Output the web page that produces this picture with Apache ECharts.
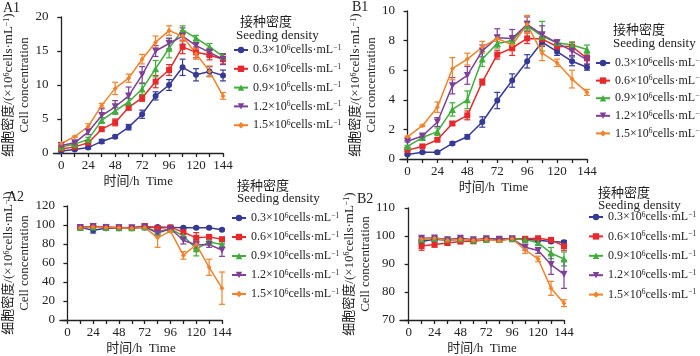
<!DOCTYPE html>
<html>
<head>
<meta charset="utf-8">
<script src="https://cdn.jsdelivr.net/npm/echarts@6/dist/echarts.min.js"></script>
<style>
  html, body { margin: 0; padding: 0; background: #fff; }
  #chart { width: 700px; height: 356px; }
</style>
</head>
<body>
<div id="chart"></div>
<script>
// 接种密度
var densities = ['0.3', '0.6', '0.9', '1.2', '1.5'];
var densityNames = densities.map(function (d) { return d + '×10⁶cells·mL⁻¹'; });
var hoursTop = [0, 12, 24, 36, 48, 60, 72, 84, 96, 108, 120, 132, 144];
var hoursBottom = [12, 24, 36, 48, 60, 72, 84, 96, 108, 120, 132, 144];
var xTicks = [0, 12, 24, 36, 48, 60, 72, 84, 96, 108, 120, 132, 144];
var xLabels = [0, 24, 48, 72, 96, 120, 144];

// A1 细胞密度
var a1Means = [
  [0.3, 0.5, 0.8, 1.7, 2.4, 3.8, 5.7, 8.4, 10.0, 12.6, 11.5, 12.0, 11.4],
  [0.6, 0.9, 1.5, 3.5, 4.5, 6.7, 8.1, 10.5, 12.2, 15.6, 14.8, 14.4, 13.8],
  [0.9, 1.3, 2.0, 4.8, 6.2, 7.5, 9.4, 12.4, 15.4, 18.1, 16.9, 15.6, 14.2],
  [1.1, 1.5, 3.1, 5.5, 6.8, 8.4, 11.5, 15.0, 16.1, 17.2, 15.8, 14.8, 13.8],
  [1.4, 2.4, 3.9, 7.0, 9.5, 11.0, 13.8, 16.3, 18.0, 17.2, 14.6, 12.0, 8.4]
];
var a1Errors = [
  [0.1, 0.1, 0.2, 0.3, 0.2, 0.4, 0.6, 0.6, 0.8, 1.2, 0.9, 0.7, 0.8],
  [0.1, 0.1, 0.2, 0.3, 0.5, 0.4, 0.5, 0.9, 0.8, 1.0, 0.8, 0.7, 0.7],
  [0.1, 0.2, 0.3, 0.4, 0.5, 0.5, 0.8, 1.2, 1.4, 0.6, 0.4, 0.5, 0.4],
  [0.1, 0.2, 0.4, 1.0, 0.9, 1.3, 1.2, 0.8, 0.8, 1.2, 0.4, 0.6, 0.8],
  [0.1, 0.1, 0.4, 0.3, 0.9, 0.6, 0.7, 0.9, 0.7, 0.8, 0.8, 0.8, 0.5]
];

// B1 细胞密度
var b1Means = [
  [0.3, 0.45, 0.45, 1.05, 1.5, 2.5, 3.95, 5.3, 6.6, 7.9, 7.25, 6.6, 6.2],
  [0.6, 0.85, 1.3, 2.4, 2.95, 5.2, 7.05, 7.5, 8.15, 8.1, 7.6, 7.6, 6.8],
  [0.85, 1.45, 1.85, 3.35, 4.0, 6.75, 7.8, 8.0, 9.0, 8.3, 7.85, 7.7, 7.4],
  [1.2, 1.55, 2.5, 4.95, 5.65, 7.3, 8.2, 8.15, 9.1, 8.4, 7.85, 7.3, 6.7],
  [1.5, 2.25, 3.5, 6.1, 6.75, 7.55, 8.15, 7.7, 9.1, 7.15, 6.5, 5.4, 4.5]
];
var b1Errors = [
  [0.05, 0.05, 0.1, 0.1, 0.15, 0.35, 0.55, 0.45, 0.45, 0.3, 0.25, 0.3, 0.2],
  [0.05, 0.05, 0.1, 0.1, 0.3, 0.2, 0.3, 0.5, 0.35, 0.4, 0.2, 0.3, 0.4],
  [0.05, 0.1, 0.25, 0.45, 0.6, 0.5, 0.3, 0.3, 0.3, 1.0, 0.15, 0.2, 0.3],
  [0.05, 0.1, 0.3, 0.55, 0.6, 0.4, 0.6, 0.6, 0.5, 0.6, 0.2, 0.3, 0.3],
  [0.05, 0.05, 0.35, 0.75, 0.4, 0.4, 0.2, 0.4, 0.6, 0.5, 0.25, 0.6, 0.2]
];

// A2 细胞活率
var a2Means = [
  [97.5, 94.5, 96.5, 96.5, 96.5, 97.5, 98, 97.5, 97, 97, 97, 95],
  [97.5, 98.5, 98, 97.5, 97, 99, 96.5, 97.5, 92.5, 86.5, 87.5, 85],
  [97.5, 98, 97.5, 97, 97, 98, 93, 96, 88.5, 75, 82, 79.5],
  [97.5, 98.5, 97.5, 97, 97, 98, 91.5, 96, 84, 79, 79.5, 73.5],
  [97, 98, 97.5, 97, 96.5, 97.5, 86.5, 93.5, 68, 79.5, 55.5, 33.5]
];
var a2Errors = [
  [1, 3, 1, 1, 1, 1, 1, 1, 1, 1, 1, 1],
  [1, 1, 1, 1, 1, 1, 1, 1, 2, 5.5, 1.5, 2],
  [1, 1, 1, 1, 1, 1, 2, 1, 2, 7.5, 2, 3],
  [1, 1, 1, 1, 1, 1, 3, 1, 4, 4, 3, 6.5],
  [1, 1, 1, 1, 1, 1, 10, 1, 4, 5, 8.5, 17]
];

// B2 细胞活率
var b2Means = [
  [98, 98.8, 98.5, 98.8, 98.5, 99, 98.8, 99, 98.8, 98.5, 98, 97.8],
  [96.4, 97, 97.5, 98, 98.1, 98.7, 98.7, 99, 99, 99.2, 98.6, 96.4],
  [98.8, 99.2, 98.8, 99, 98.6, 98.8, 98.8, 99, 98.7, 97.6, 93.9, 91.8],
  [99.2, 99.3, 98.7, 99.2, 98.7, 99, 98.8, 99, 96, 94.8, 89.8, 86.3],
  [98.8, 99.2, 98.5, 98.8, 98.5, 98.8, 98.2, 99, 95, 91.8, 81.3, 76]
];
var b2Errors = [
  [0.8, 0.5, 0.5, 0.5, 0.5, 0.5, 0.5, 0.5, 0.5, 0.5, 0.5, 0.6],
  [1.5, 1, 0.6, 0.5, 0.5, 0.5, 0.5, 0.5, 0.5, 0.5, 0.6, 1.5],
  [0.5, 0.5, 0.5, 0.5, 0.5, 0.5, 0.5, 0.5, 0.5, 0.8, 2, 2.5],
  [0.5, 0.5, 0.5, 0.5, 0.5, 0.5, 0.5, 0.5, 1, 1, 3.5, 5],
  [0.5, 0.5, 0.5, 0.5, 0.5, 0.5, 0.5, 0.5, 1.2, 1, 2.5, 1.2]
];

var colors = ['#363a97', '#e8292b', '#3fae3a', '#7f3f98', '#f5822a'];
var symbols = ['circle', 'rect', 'triangle', 'triangle', 'diamond'];
var symbolRotates = [0, 0, 0, 180, 0];
var symbolSizes = [6, 6, 7, 7, 5];

var FONT = '"Liberation Serif", "Noto Sans CJK SC", serif';
var yName = '{n|细胞密度/(×10}{s|6}{n|cells·mL}{s|−1}{n|)}\n{n|Cell concentration}';

var grids = [
  { left: 50, top: 17, width: 173, height: 136 },
  { left: 400, top: 11, width: 187, height: 148 },
  { left: 55, top: 206, width: 167, height: 119 },
  { left: 400, top: 208, width: 164, height: 116 }
];
var xMins = [-7, -6, -7, -8];
var yRanges = [[0, 20, 5], [0, 10, 2], [0, 120, 20], [70, 110, 10]];
var nameGaps = [15, 13, 19, 15];

var axisLineStyle = { color: '#222', width: 1.3 };

var xAxes = grids.map(function (g, i) {
  return {
    type: 'value', gridIndex: i, min: xMins[i], max: 144,
    name: '时间/h  Time', nameLocation: 'middle', nameGap: 22,
    nameTextStyle: { fontFamily: FONT, fontSize: 13, color: '#222' },
    axisLine: { show: true, onZero: false, lineStyle: axisLineStyle },
    axisTick: { show: true, length: 4, lineStyle: axisLineStyle, customValues: xTicks },
    axisLabel: { fontFamily: FONT, fontSize: 13, color: '#222', margin: 6, customValues: xLabels },
    splitLine: { show: false }
  };
});

var yAxes = grids.map(function (g, i) {
  return {
    type: 'value', gridIndex: i, min: yRanges[i][0], max: yRanges[i][1], interval: yRanges[i][2],
    name: yName, nameLocation: 'middle', nameRotate: 90, nameGap: nameGaps[i],
    nameTextStyle: {
      color: '#222',
      rich: {
        n: { fontFamily: FONT, fontSize: 13, color: '#222', lineHeight: 16 },
        s: { fontFamily: FONT, fontSize: 8, color: '#222', lineHeight: 16, verticalAlign: 'top', padding: [2, 0, 0, 0] }
      }
    },
    axisLine: { show: true, lineStyle: axisLineStyle },
    axisTick: { show: true, length: 4, lineStyle: axisLineStyle },
    axisLabel: { fontFamily: FONT, fontSize: 13, color: '#222', margin: 5 },
    splitLine: { show: false }
  };
});

var series = [];

function errorRenderer(color) {
  return function (params, api) {
    var x = api.value(0);
    var lo = api.coord([x, api.value(1)]);
    var hi = api.coord([x, api.value(2)]);
    var w = 3;
    var st = { stroke: color, lineWidth: 1.2 };
    return {
      type: 'group',
      children: [
        { type: 'line', shape: { x1: lo[0], y1: lo[1], x2: hi[0], y2: hi[1] }, style: st },
        { type: 'line', shape: { x1: lo[0] - w, y1: lo[1], x2: lo[0] + w, y2: lo[1] }, style: st },
        { type: 'line', shape: { x1: hi[0] - w, y1: hi[1], x2: hi[0] + w, y2: hi[1] }, style: st }
      ]
    };
  };
}

function addPanel(gi, hours, means, errors) {
  means.forEach(function (m, i) {
    series.push({
      type: 'custom', xAxisIndex: gi, yAxisIndex: gi, silent: true, z: 2,
      encode: { x: 0, y: [1, 2] },
      renderItem: errorRenderer(colors[i]),
      data: hours.map(function (h, k) { return [h, m[k] - errors[i][k], m[k] + errors[i][k]]; })
    });
    series.push({
      type: 'line', name: densityNames[i], xAxisIndex: gi, yAxisIndex: gi, z: 3,
      symbol: symbols[i], symbolRotate: symbolRotates[i], symbolSize: symbolSizes[i],
      showAllSymbol: true,
      itemStyle: { color: colors[i] },
      lineStyle: { color: colors[i], width: 1.5 },
      data: hours.map(function (h, k) { return [h, m[k]]; })
    });
  });
}

addPanel(0, hoursTop, a1Means, a1Errors);
addPanel(1, hoursTop, b1Means, b1Errors);
addPanel(2, hoursBottom, a2Means, a2Errors);
addPanel(3, hoursBottom, b2Means, b2Errors);

// 图例位置
var legendPos = [
  { left: 233, top: 43, gap: 5.8 },
  { left: 595, top: 56, gap: 4.6 },
  { left: 231, top: 211, gap: 6 },
  { left: 588, top: 210, gap: 6.4 }
];
var legends = legendPos.map(function (p) {
  return {
    orient: 'vertical', left: p.left, top: p.top, padding: 0,
    itemWidth: 14, itemHeight: 8, itemGap: p.gap, selectedMode: false,
    formatter: function (name) {
      var d = densities[densityNames.indexOf(name)];
      return '{n|' + d + '×10}{s|6}{n|cells·mL}{s|−1}';
    },
    textStyle: {
      rich: {
        n: { fontFamily: FONT, fontSize: 12, color: '#222', lineHeight: 14 },
        s: { fontFamily: FONT, fontSize: 7.5, color: '#222', lineHeight: 14, verticalAlign: 'top', padding: [1, 0, 0, 0] }
      }
    },
    data: densityNames
  };
});

function txt(x, y, s, size) {
  return { type: 'text', left: x, top: y, style: { text: s, font: size + 'px ' + FONT, fill: '#222' } };
}

var graphics = [
  txt(3, 1, 'A1', 14), txt(352, 0, 'B1', 14), txt(7, 190, 'A2', 14), txt(357, 192, 'B2', 14),
  txt(240, 16, '接种密度', 13), txt(236, 29, 'Seeding density', 13),
  txt(613, 24, '接种密度', 13), txt(613, 37, 'Seeding density', 13),
  txt(237, 180, '接种密度', 13), txt(237, 192, 'Seeding density', 13),
  txt(598, 187, '接种密度', 13), txt(598, 199, 'Seeding density', 13)
];

var chart = echarts.init(document.getElementById('chart'), null, { renderer: 'canvas' });
chart.setOption({
  animation: false,
  backgroundColor: '#fff',
  grid: grids,
  xAxis: xAxes,
  yAxis: yAxes,
  legend: legends,
  graphic: graphics,
  series: series
});
</script>
</body>
</html>
